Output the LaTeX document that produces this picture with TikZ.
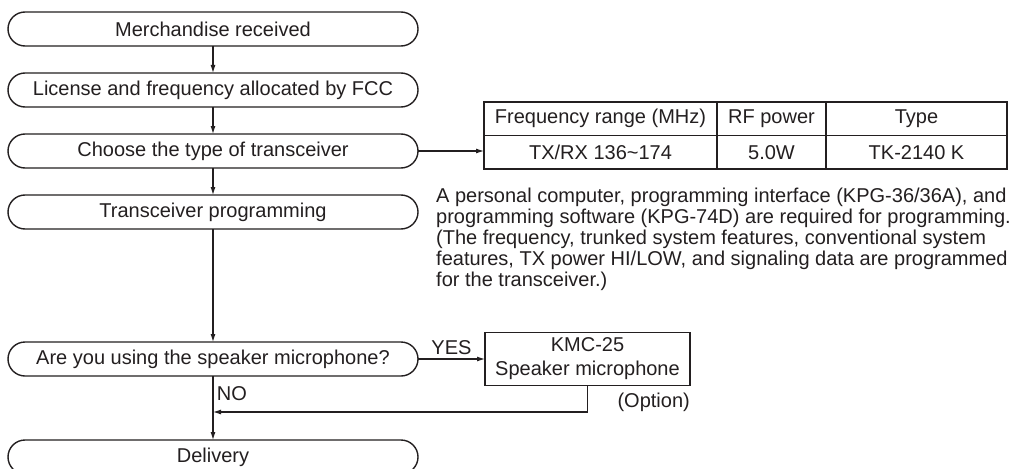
\documentclass[tikz,border=0pt]{standalone}
\usepackage{fontspec}
\setmainfont{Liberation Sans}
\usetikzlibrary{positioning}
\usetikzlibrary{arrows.meta}
\definecolor{ink}{RGB}{35,31,32}
\tikzset{%
	>={Latex[width=5pt,length=8pt]},
	% Specifications for style of nodes:
	base/.style = {draw=ink, text=ink, inner sep=0pt, outer sep=0pt, text centered},
	stage/.style = {base, rectangle, rounded corners=17pt, line width=1.4pt, minimum width=410pt, minimum height=34pt},
	cell/.style = {base, rectangle, line width=1.1pt, minimum height=33.5pt},
	optbox/.style = {base, rectangle, line width=1.4pt, minimum width=205pt, minimum height=53pt, align=center},
	note/.style = {text=ink, inner sep=0pt, align=left},
}

\begin{document}
\begin{tikzpicture}[x=1pt,y=1pt,font=\fontsize{20}{24}\selectfont]
		\path[use as bounding box, fill=white] (0,0) rectangle (1024,-468);

		\node (merch) [stage] at (213,-29) {Merchandise received};
		\node (fcc) [stage, below=27pt of merch] {License and frequency allocated by FCC};
		\node (choose) [stage, below=27pt of fcc] {Choose the type of transceiver};
		\node (prog) [stage, below=27pt of choose] {Transceiver programming};
		\node (ask) [stage, below=113pt of prog] {Are you using the speaker microphone?};
		\node (deliv) [stage, below=64pt of ask] {Delivery};

		\node (freq) [cell, minimum width=233pt, anchor=north west] at (484,-102) {Frequency range (MHz)};
		\node (power) [cell, minimum width=109pt, right=0pt of freq] {RF power};
		\node (type) [cell, minimum width=181pt, right=0pt of power] {Type};
		\node (band) [cell, minimum width=233pt, below=0pt of freq] {TX/RX 136\textasciitilde174};
		\node (watt) [cell, minimum width=109pt, right=0pt of band] {5.0W};
		\node (model) [cell, minimum width=181pt, right=0pt of watt] {TK-2140 K};

		\node (req) [note, anchor=north west, font=\fontsize{20}{21}\selectfont] at ([xshift=18pt,yshift=7pt]prog.north east)
			{A personal computer, programming interface (KPG-36/36A), and\\
			programming software (KPG-74D) are required for programming.\\
			(The frequency, trunked system features, conventional system\\
			features, TX power HI/LOW, and signaling data are programmed\\
			for the transceiver.)};

		\node (kmc) [optbox, right=67pt of ask] {KMC-25\\Speaker microphone};
		\node (opt) [note, anchor=east] at ([yshift=-17pt]kmc.south east) {(Option)};
		\coordinate [below=36pt of ask] (join);

		\draw [ink,line width=1.1pt,->] (merch) -- (fcc);
		\draw [ink,line width=1.1pt,->] (fcc) -- (choose);
		\draw [ink,line width=1.1pt,->] (choose) -- (prog);
		\draw [ink,line width=1.1pt,->] (choose.east) -- (choose.east -| band.west);
		\draw [ink,line width=1.1pt,->] (prog) -- (ask);
		\draw [ink,line width=1.1pt,->] (ask) -- node [above, text=ink] {YES} (kmc);
		\draw [ink,line width=1.1pt,->] (ask) -- node [pos=0.28, right, text=ink] {NO} (deliv);
		\draw [ink,line width=1.1pt,->] (kmc.south) |- (join);

     \end{tikzpicture}
\end{document}
